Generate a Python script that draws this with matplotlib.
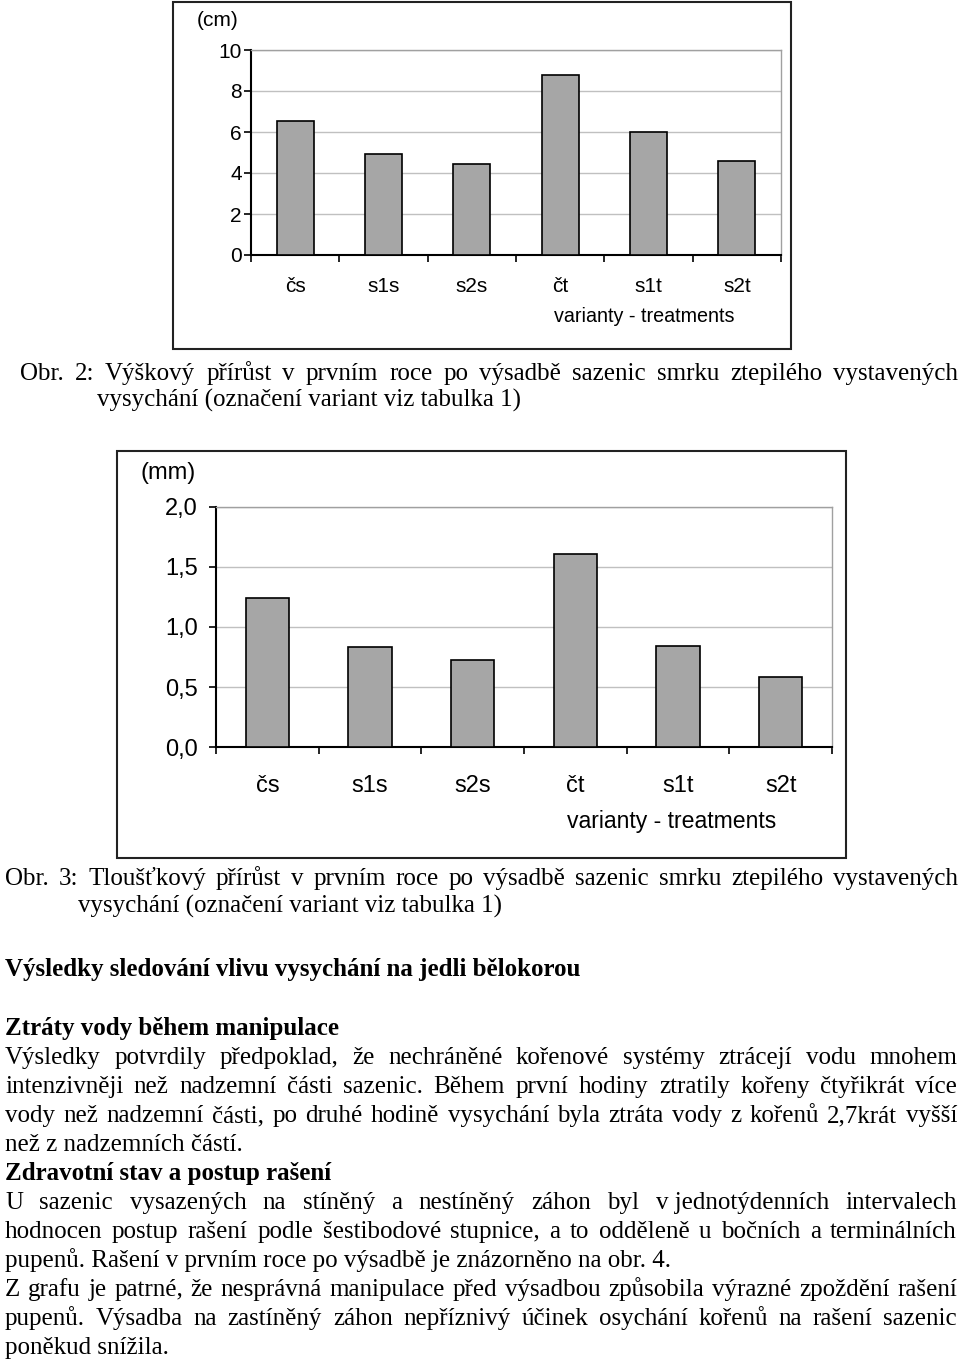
import matplotlib
matplotlib.use("Agg")
import matplotlib.pyplot as plt
from matplotlib.patches import Rectangle
from matplotlib.ticker import FuncFormatter
import numpy as np

W, H = 960, 1365
SANS = ["Liberation Sans", "DejaVu Sans"]
SERIF = ["Liberation Serif", "DejaVu Serif"]

# data
categories = ["čs", "s1s", "s2s", "čt", "s1t", "s2t"]
height_cm = [6.55, 4.91, 4.42, 8.80, 5.98, 4.60]
thickness_mm = [1.24, 0.83, 0.725, 1.61, 0.84, 0.585]
x_title = "varianty - treatments"

caption2 = ["Obr. 2: Výškový přírůst v prvním roce po výsadbě sazenic smrku ztepilého vystavených",
            "vysychání (označení variant viz tabulka 1)"]
caption3 = ["Obr. 3: Tloušťkový přírůst v prvním roce po výsadbě sazenic smrku ztepilého vystavených",
            "vysychání (označení variant viz tabulka 1)"]

# (text, bold, justified)
body = [
    ("Výsledky sledování vlivu vysychání na jedli bělokorou", True, False),
    ("Ztráty vody během manipulace", True, False),
    ("Výsledky potvrdily předpoklad, že nechráněné kořenové systémy ztrácejí vodu mnohem", False, True),
    ("intenzivněji než nadzemní části sazenic.  Během první hodiny ztratily kořeny čtyřikrát více", False, True),
    ("vody než nadzemní části, po druhé hodině vysychání byla ztráta vody z kořenů 2,7krát vyšší", False, True),
    ("než z nadzemních částí.", False, False),
    ("Zdravotní stav a postup rašení", True, False),
    ("U sazenic vysazených na stíněný a nestíněný záhon byl v\u00a0jednotýdenních intervalech", False, True),
    ("hodnocen postup rašení podle šestibodové stupnice, a to odděleně u bočních a terminálních", False, True),
    ("pupenů. Rašení v prvním roce po výsadbě je znázorněno na obr. 4.", False, False),
    ("Z  grafu je patrné, že nesprávná manipulace před výsadbou způsobila výrazné zpoždění rašení", False, True),
    ("pupenů. Výsadba na zastíněný záhon nepříznivý účinek osychání kořenů na rašení sazenic", False, True),
    ("poněkud snížila.", False, False),
]
body_y = [976, 1035, 1064, 1093, 1122, 1151, 1180, 1209, 1238, 1267, 1296, 1325, 1354]


def fig_rect(x0, y0, x1, y1):
    return [x0 / W, 1 - y1 / H, (x1 - x0) / W, (y1 - y0) / H]


def draw_chart(fig, frame, box, values, ymax, ystep, fmt, unit, unit_xy, xt_xy,
               fs, fs_title, ypad, label_base):
    fig.patches.append(Rectangle((frame[0] / W, 1 - frame[3] / H),
                                 (frame[2] - frame[0]) / W, (frame[3] - frame[1]) / H,
                                 transform=fig.transFigure, fill=False,
                                 ec="#222222", lw=1.5))
    ax = fig.add_axes(fig_rect(*box))
    x = np.arange(len(categories))
    ax.bar(x, values, width=0.42, color="#a6a6a6", edgecolor="black",
           linewidth=1.2, zorder=3)
    ax.set_xlim(-0.5, len(categories) - 0.5)
    ax.set_ylim(0, ymax)
    ax.set_yticks(np.arange(0, ymax + ystep / 2, ystep))
    ax.yaxis.set_major_formatter(FuncFormatter(fmt))
    ax.grid(axis="y", color="#c0c0c0", lw=1, zorder=0)
    ax.set_xticks(np.arange(-0.5, len(categories), 1))
    ax.set_xticklabels([])
    ax.set_xticks(x, minor=True)
    ax.set_xticklabels(categories, minor=True, family=SANS)
    # label_base: distance (px) from the x axis down to the label baseline
    ax.tick_params(axis="x", which="minor", length=0, pad=label_base * 0.72,
                   labelsize=fs)
    plt.setp(ax.get_xticklabels(minor=True), va="baseline")
    ax.tick_params(axis="x", which="major", length=5, width=1.2, direction="out")
    ax.tick_params(axis="y", length=5, width=1.2, pad=ypad, labelsize=fs)
    for lab in ax.get_yticklabels():
        lab.set_family(SANS)
    for s in ["left", "bottom"]:
        ax.spines[s].set_color("black")
        ax.spines[s].set_linewidth(1.5)
    for s in ["top", "right"]:
        ax.spines[s].set_color("#a0a0a0")
        ax.spines[s].set_linewidth(1.0)
    fig.text(unit_xy[0] / W, 1 - unit_xy[1] / H, unit, family=SANS, fontsize=fs,
             ha="center", va="center")
    fig.text(xt_xy[0] / W, 1 - xt_xy[1] / H, x_title, family=SANS, fontsize=fs_title,
             ha="left", va="baseline")
    return ax


def put_line(fig, r, text, x0, x1, y, size, bold=False, justify=False):
    kw = dict(fontsize=size, family=SERIF, weight="bold" if bold else "normal",
              va="baseline", ha="left")
    if not justify:
        fig.text(x0 / W, 1 - y / H, text, **kw)
        return
    words = [w for w in text.split(" ") if w]
    objs = [fig.text(0, 0, w, **kw) for w in words]
    widths = [o.get_window_extent(r).width for o in objs]
    gap = (x1 - x0 - sum(widths)) / (len(words) - 1)
    xx = x0
    for o, w in zip(objs, widths):
        o.set_position((xx / W, 1 - y / H))
        xx += w + gap


fig = plt.figure(figsize=(W / 100, H / 100), dpi=100)
r = fig.canvas.get_renderer()

draw_chart(fig, (173, 2, 791, 349), (251, 50, 781, 255), height_cm, 10, 2,
           lambda v, p: f"{v:.0f}", "(cm)", (218, 20), (554, 322),
           fs=15, fs_title=14.2, ypad=1.5, label_base=37)
draw_chart(fig, (117, 451, 846, 858), (216, 507, 832, 747), thickness_mm, 2.0, 0.5,
           lambda v, p: f"{v:.1f}".replace(".", ","), "(mm)", (168, 473), (567, 828),
           fs=17, fs_title=16.6, ypad=8, label_base=44.5)

FS = 18
put_line(fig, r, caption2[0], 20, 958, 380, FS, justify=True)
put_line(fig, r, caption2[1], 97, 958, 407, FS)
put_line(fig, r, caption3[0], 5, 958, 885, FS, justify=True)
put_line(fig, r, caption3[1], 78, 958, 913, FS)
for (txt, bold, just), y in zip(body, body_y):
    put_line(fig, r, txt, 5, 957, y, FS, bold=bold, justify=just)

fig.savefig("out.png", dpi=100)
